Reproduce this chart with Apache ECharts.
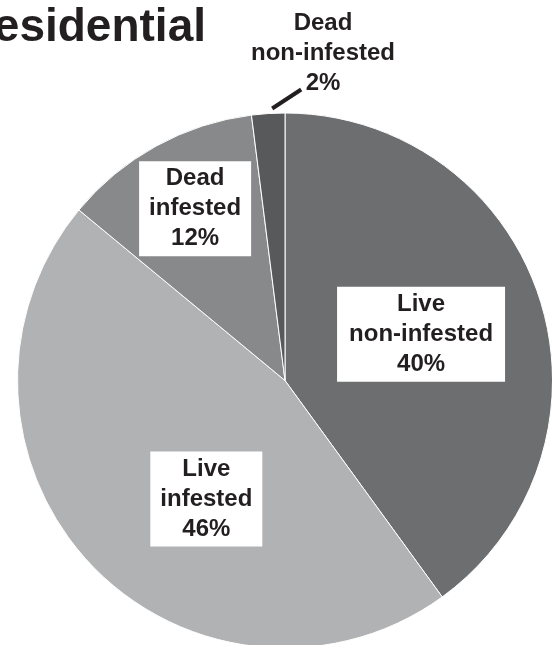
<!DOCTYPE html>
<html>
<head>
<meta charset="utf-8">
<script src="https://cdn.jsdelivr.net/npm/echarts@6/dist/echarts.min.js"></script>
<style>
html,body{margin:0;padding:0;background:#fff;}
#chart{width:552px;height:645px;}
</style>
</head>
<body>
<div id="chart"></div>
<script>
var titleText = 'Residential';
var categories = ['Live\nnon-infested', 'Live\ninfested', 'Dead\ninfested', 'Dead\nnon-infested'];
var values = [40, 46, 12, 2];
var colors = ['#6d6e70', '#b1b2b4', '#88898b', '#58595b'];
var labelShift = [[6, -4], [21, 25], [-24, -52], [0, 0]];
var labelPad = [[3, 12, 2, 12], [3, 10, 2, 10], [3, 10, 2, 10], [0, 0, 0, 0]];

var chart = echarts.init(document.getElementById('chart'));
var data = values.map(function (v, i) {
  var inside = i < 3;
  return {
    name: categories[i],
    value: v,
    itemStyle: { color: colors[i] },
    label: {
      position: inside ? 'inside' : 'outside',
      backgroundColor: inside ? '#ffffff' : 'transparent',
      padding: labelPad[i]
    },
    labelLine: {
      show: !inside,
      length: 20,
      length2: 0,
      lineStyle: { color: '#231f20', width: 4 }
    }
  };
});

chart.setOption({
  animation: false,
  backgroundColor: '#ffffff',
  graphic: [{
    type: 'text',
    x: 206,
    y: 28,
    style: {
      text: titleText,
      font: 'bold 46px "Liberation Sans", Arial, sans-serif',
      fill: '#231f20',
      textAlign: 'right',
      textVerticalAlign: 'middle'
    }
  }],
  series: [{
    type: 'pie',
    center: [285, 380.5],
    radius: [0, 267.5],
    startAngle: 90,
    clockwise: true,
    silent: true,
    itemStyle: { borderColor: '#ffffff', borderWidth: 1 },
    label: {
      show: true,
      formatter: '{b}\n{c}%',
      color: '#231f20',
      fontFamily: '"Liberation Sans", Arial, sans-serif',
      fontWeight: 'bold',
      fontSize: 24,
      lineHeight: 30,
      align: 'center'
    },
    labelLayout: function (params) {
      var i = params.dataIndex;
      if (i === 3) {
        var p0 = params.labelLinePoints[0];
        return {
          x: 323,
          y: 53,
          align: 'center',
          verticalAlign: 'middle',
          labelLinePoints: [[p0[0] + 4, p0[1] - 5], [p0[0] + 33, p0[1] - 24]]
        };
      }
      return { dx: labelShift[i][0], dy: labelShift[i][1] };
    },
    data: data
  }]
});
</script>
</body>
</html>
